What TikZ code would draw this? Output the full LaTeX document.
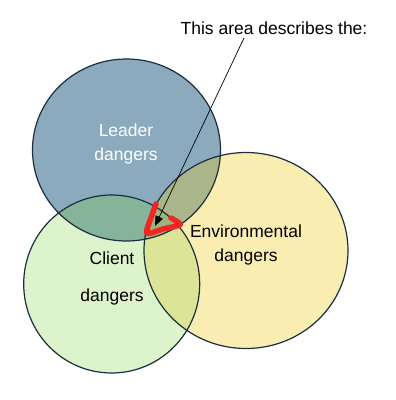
\documentclass[tikz,border=0pt]{standalone}
\usepackage{fontspec}
\setmainfont{Liberation Sans}
\usepackage{tikz}
\usetikzlibrary{arrows.meta}
\usepackage{xcolor}
\definecolor{leaderc}{HTML}{8BAABD}
\definecolor{clientc}{HTML}{DDF3CC}
\definecolor{envc}{HTML}{FAEDB1}
\definecolor{lcc}{HTML}{86B49A}
\definecolor{lec}{HTML}{ABB58A}
\definecolor{cec}{HTML}{DCE597}
\definecolor{allc}{HTML}{9CB67A}
\definecolor{rimc}{HTML}{1A2E3D}
\definecolor{markc}{HTML}{F42525}

\begin{document}
\begin{tikzpicture}[x=1pt,y=-1pt,font=\fontsize{17.5}{24}\selectfont]
\useasboundingbox (0,0) rectangle (396,400);
\def\leader{(126.5,150) ellipse [x radius=94,y radius=91]}
\def\client{(111.7,284) ellipse [x radius=88,y radius=89]}
\def\env{(246,250.5) ellipse [x radius=102,y radius=98]}
\fill[leaderc] \leader; \fill[clientc] \client; \fill[envc] \env;
\begin{scope} \clip \leader; \fill[lcc] \client; \fill[lec] \env; \end{scope}
\begin{scope} \clip \client; \fill[cec] \env; \clip \leader; \fill[allc] \env; \end{scope}
\draw[rimc,line width=1.2pt] \leader \client \env;
% labels
\node[white,align=center] (leader) at (126,144) {Leader\\dangers};
\node[align=center] (client) at (112,278) {Client\\[13pt]dangers};
\node[align=center] (env) at (246,245) {Environmental\\dangers};
\node (note) at (274,28) {This area describes the:};
% pointer into the shared area
\coordinate (from) at (244,38);
\coordinate (tip) at (155,226);
\draw[-{Triangle[length=10pt,width=8pt]},line width=0.7pt] (from) -- (tip);
\draw[markc,line width=5.5pt,line cap=round,line join=round]
  plot[smooth] coordinates {(156,204) (152,215) (147,233) (163,229) (180,225) (176,221) (171,218)};
\end{tikzpicture}
\end{document}
